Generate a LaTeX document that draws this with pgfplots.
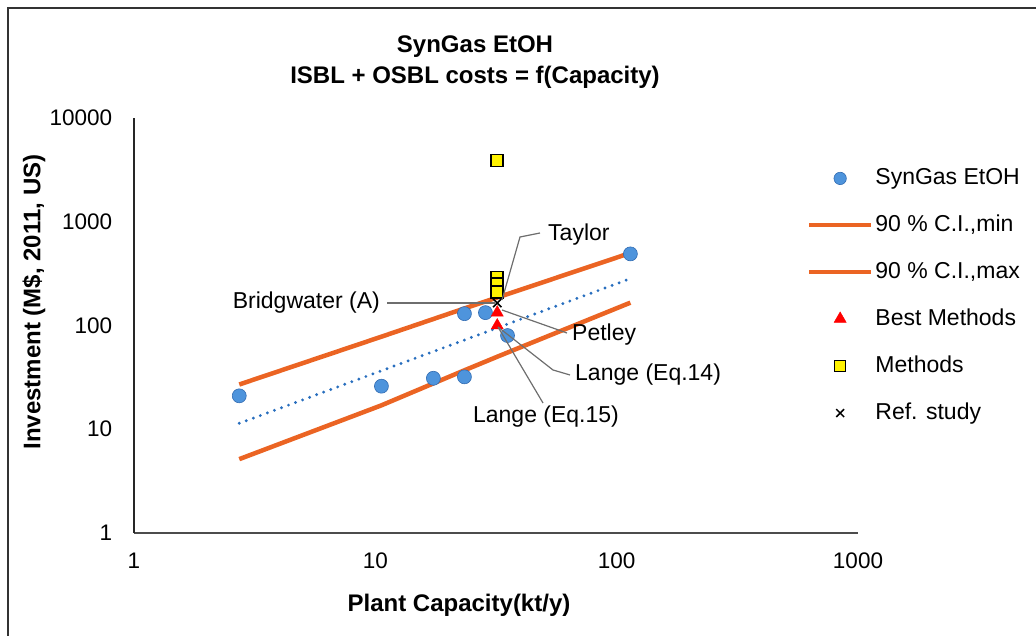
\documentclass[border=0pt]{standalone}
\usepackage{fontspec}
\setmainfont{Liberation Sans}
\usepackage{pgfplots}
\pgfplotsset{compat=1.18}
\definecolor{ptblue}{RGB}{78,148,220}
\definecolor{ptedge}{RGB}{50,108,178}
\definecolor{cirange}{RGB}{235,100,35}
\definecolor{trendblue}{RGB}{40,110,190}
\definecolor{callout}{RGB}{110,110,110}
\begin{document}
\fontsize{23}{27}\selectfont
\begin{tikzpicture}[x=1pt,y=1pt]
\useasboundingbox (0,0) rectangle (1036,636);
% frame (top and left edges visible)
\draw[line width=2.4pt, black!80] (8,0) -- (8,628) -- (1036,628);
% title
\node[font=\fontsize{24}{31}\selectfont\bfseries, align=center, inner sep=0pt] at (475,574) {SynGas EtOH\\ISBL + OSBL costs = f(Capacity)};
\begin{axis}[
    at={(134pt,103pt)}, anchor=south west,
    scale only axis, width=724pt, height=415pt,
    xmode=log, ymode=log,
    xmin=1, xmax=1000, ymin=1, ymax=10000,
    xtick={1,10,100,1000}, xticklabels={1,10,100,1000},
    ytick={1,10,100,1000,10000}, yticklabels={1,10,100,1000,10000},
    xminorticks=false, yminorticks=false,
    major tick length=0pt,
    axis x line*=bottom, axis y line*=left,
    x axis line style={-, line width=2.6pt, black!70},
    y axis line style={-, line width=1.6pt, black!85},
    tick label style={font=\fontsize{22.5}{26}\selectfont},
    xticklabel style={yshift=-12pt},
    yticklabel style={xshift=-14pt},
    clip=false,
    legend cell align=left,
    legend image code/.code={\draw[mark repeat=2,mark phase=2,#1] plot coordinates {(0pt,0pt) (31pt,0pt) (62pt,0pt)};},
    legend style={at={(axis description cs:0.925,0.888)}, anchor=north west,
        draw=none, fill=none, row sep=23pt, font=\fontsize{23}{27}\selectfont,
        nodes={inner sep=2pt}},
  ]
  % legend entries in the original order
  \addlegendimage{only marks, mark=*, mark size=6.2pt, mark options={fill=ptblue, draw=ptedge, line width=0.6pt}}
  \addlegendentry{SynGas EtOH}
  \addlegendimage{legend image code/.code={\draw[line width=4.5pt, cirange] (0pt,0pt) -- (62pt,0pt);}}
  \addlegendentry{90 \% C.I.,min}
  \addlegendimage{legend image code/.code={\draw[line width=4.5pt, cirange] (0pt,0pt) -- (62pt,0pt);}}
  \addlegendentry{90 \% C.I.,max}
  \addlegendimage{only marks, mark=triangle*, mark size=7pt, mark options={fill=red, draw=red}}
  \addlegendentry{Best Methods}
  \addlegendimage{only marks, mark=square*, mark size=5.5pt, mark options={fill=yellow, draw=black, line width=1.6pt}}
  \addlegendentry{Methods}
  \addlegendimage{only marks, mark=x, mark size=5.5pt, mark options={draw=black, line width=1.5pt}}
  \addlegendentry{Ref. study}

  % confidence interval lines and trend
  \addplot[forget plot, no marks, line width=4.5pt, cirange] coordinates {
    (2.73,27) (10.6,78) (23.4,146) (32,186) (114,500)};
  \addplot[forget plot, no marks, line width=4.5pt, cirange] coordinates {
    (2.73,5.15) (10.6,17) (23.4,37) (32,50) (114,166)};
  \addplot[forget plot, no marks, line width=3.2pt, trendblue, line cap=round,
    dash pattern=on 0pt off 7.5pt] coordinates {
    (2.73,11.4) (114,283)};

  % data
  \addplot[forget plot, only marks, mark=*, mark size=7pt,
    mark options={fill=ptblue, draw=ptedge, line width=0.6pt}] coordinates {
    (2.73,21) (10.6,26) (17.4,31) (23.4,130) (23.4,32) (28.6,133) (35.3,80) (114,490)};
  \addplot[forget plot, only marks, mark=square*, mark size=6pt,
    mark options={fill=yellow, draw=black, line width=1.6pt}] coordinates {
    (32,3900) (32,290) (32,250) (32,210)};
  \addplot[forget plot, only marks, mark=triangle*, mark size=7pt,
    mark options={fill=red, draw=red}] coordinates {
    (32,133) (32,100)};
  \addplot[forget plot, only marks, mark=x, mark size=6pt,
    mark options={draw=black, line width=1.6pt}] coordinates {
    (32,165)};
\end{axis}
% axis labels
\node[font=\fontsize{24}{28}\selectfont\bfseries, inner sep=0pt] at (459,31) {Plant Capacity(kt/y)};
\node[font=\fontsize{24}{28}\selectfont\bfseries, inner sep=0pt, rotate=90] at (34,334) {Investment (M\$, 2011, US)};
% callouts
\begin{scope}[callout, line width=1.2pt]
  \draw (387,333) -- (495,333);
  \draw (502,336) -- (520,399) -- (540,403);
  \draw (502,326) -- (567,303);
  \draw (498,309) -- (553,266) -- (570,261);
  \draw (498,309) -- (543,233);
\end{scope}
\node[anchor=east, inner sep=0pt] at (380,333) {Bridgwater (A)};
\node[anchor=west, inner sep=0pt] at (548,401) {Taylor};
\node[anchor=west, inner sep=0pt] at (572,301) {Petley};
\node[anchor=west, inner sep=0pt] at (575,261) {Lange (Eq.14)};
\node[inner sep=0pt] at (546,219) {Lange (Eq.15)};
\end{tikzpicture}
\end{document}
